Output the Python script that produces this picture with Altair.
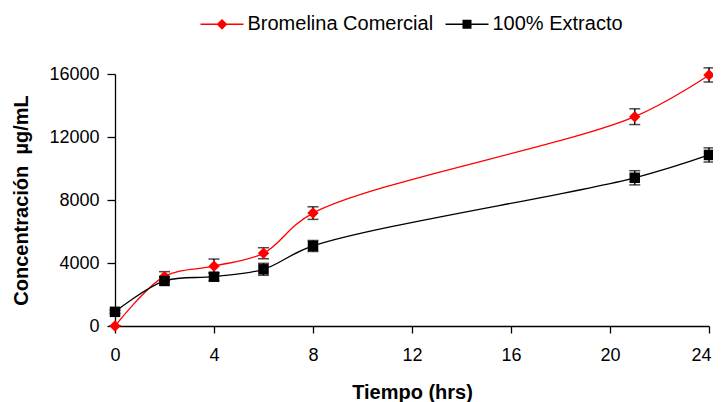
import altair as alt
import pandas as pd

tiempo = [0, 2, 4, 6, 8, 21, 24]
bromelina = [0, 3150, 3800, 4620, 7170, 13290, 15940]
bromelina_err = [0, 300, 450, 350, 400, 500, 450]
extracto = [900, 2860, 3130, 3600, 5080, 9410, 10860]
extracto_err = [100, 250, 250, 380, 350, 450, 450]
series = ["Bromelina Comercial", "100% Extracto"]
colors = ["#ff0000", "#000000"]
y_ticks = [0, 4000, 8000, 12000, 16000]
x_ticks = [0, 4, 8, 12, 16, 20, 24]

rows = []
for name, vals, errs in [(series[0], bromelina, bromelina_err),
                         (series[1], extracto, extracto_err)]:
    for t, v, e in zip(tiempo, vals, errs):
        rows.append({"tiempo": t, "valor": v, "lo": v - e, "hi": v + e, "serie": name})
df = pd.DataFrame(rows)

FONT = "Liberation Sans"
XT = "Tiempo (hrs)"
YT = "Concentración\u00a0 µg/mL"

x_enc = alt.X("tiempo:Q", title=XT,
              scale=alt.Scale(domain=[0, 24], nice=False, zero=False),
              axis=alt.Axis(values=x_ticks, grid=False, tickSize=7, labelPadding=13,
                            labelFlush=False, titlePadding=18, format="d",
                            labelOffset=alt.expr("datum.value == 24 ? -8 : 0")))
y_enc = alt.Y("valor:Q", title=YT,
              scale=alt.Scale(domain=[0, 16000], nice=False),
              axis=alt.Axis(values=y_ticks, grid=False, tickSize=8, labelPadding=8,
                            labelFlush=False, titlePadding=17, format="d"))

base = alt.Chart(df)


def serie_line(i):
    return base.transform_filter(alt.datum.serie == series[i]).mark_line(
        interpolate="catmull-rom", strokeWidth=1.3, color=colors[i]
    ).encode(x=x_enc, y=y_enc)


line_r = serie_line(0)
line_k = serie_line(1)

bars = base.mark_rule(color="black", strokeWidth=1.4).encode(
    x=alt.X("tiempo:Q", title=XT),
    y=alt.Y("lo:Q", title=YT),
    y2="hi:Q",
)

caps = base.transform_fold(["lo", "hi"], as_=["k", "v"]).mark_tick(
    color="black", thickness=1.5, size=11, orient="horizontal"
).encode(
    x=alt.X("tiempo:Q", title=XT),
    y=alt.Y("v:Q", title=YT),
)

diamonds = base.transform_filter(alt.datum.serie == series[0]).mark_point(
    shape="diamond", filled=True, size=130, color=colors[0], opacity=1
).encode(x=alt.X("tiempo:Q", title=XT), y=alt.Y("valor:Q", title=YT))

squares = base.transform_filter(alt.datum.serie == series[1]).mark_point(
    shape="square", filled=True, size=110, color=colors[1], opacity=1
).encode(x=alt.X("tiempo:Q", title=XT), y=alt.Y("valor:Q", title=YT))

path_d = "M-1,-0.03H1V0.03H-1ZM0,-0.25L0.25,0L0,0.25L-0.25,0Z"
path_s = "M-1,-0.03H1V0.03H-1ZM-0.21,-0.21H0.21V0.21H-0.21Z"

leg = alt.Legend(title=None, orient="none", legendX=85.5, legendY=-71.5,
                 direction="horizontal", symbolSize=1849, labelFontSize=20,
                 labelFont=FONT, labelColor="black", labelOffset=4, labelLimit=400,
                 columnPadding=12, symbolStrokeWidth=0)

legend_layer = base.mark_point(filled=True, size=1, opacity=1).encode(
    x=alt.X("tiempo:Q", title=XT),
    y=alt.Y("valor:Q", title=YT),
    color=alt.Color("serie:N", scale=alt.Scale(domain=series, range=colors), legend=leg),
    shape=alt.Shape("serie:N", scale=alt.Scale(domain=series, range=[path_d, path_s]),
                    legend=leg),
)

chart = alt.layer(line_r, line_k, bars, caps, diamonds, squares, legend_layer).properties(
    width=594, height=252,
    autosize=alt.AutoSizeParams(type="none"),
    padding={"left": 107, "top": 66, "right": 4, "bottom": 76},
).configure_view(stroke=None).configure_axis(
    domainColor="black", tickColor="black", domainWidth=1.3, tickWidth=1.3,
    labelFont=FONT, labelFontSize=18, labelColor="black",
    titleFont=FONT, titleFontSize=20, titleFontWeight="bold", titleColor="black",
)

chart.save("out.html", embed_options={"renderer": "svg", "actions": False})
